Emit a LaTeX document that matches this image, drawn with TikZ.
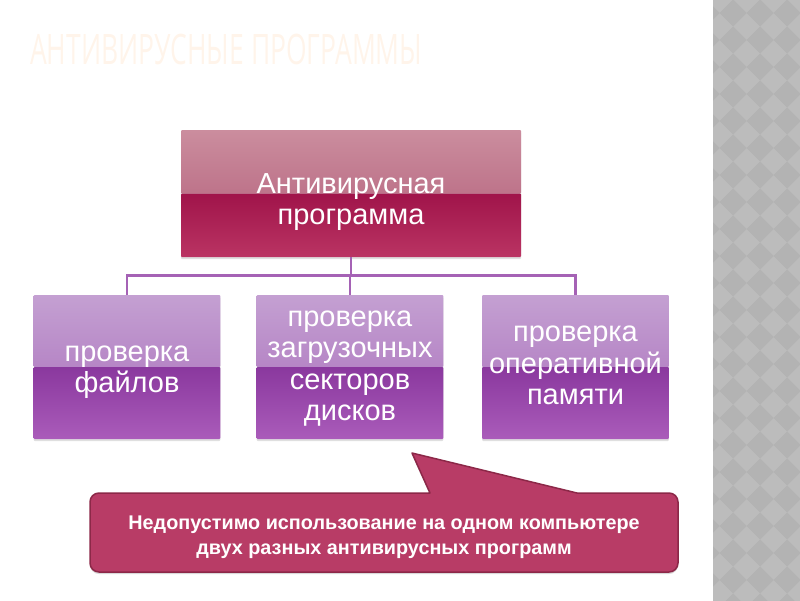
\documentclass[tikz,border=0pt]{standalone}
\usepackage{fontspec}
\setmainfont{Liberation Sans}
\newfontfamily\titlefont[FakeStretch=0.63]{Open Sans}
\usepackage{tikz}
\usetikzlibrary{shadows,calc}
\definecolor{avtitle}{HTML}{FFF4EA}
\definecolor{avstrip}{HTML}{BCBCBC}
\definecolor{avstripdk}{HTML}{B3B3B3}
\definecolor{avheadtop}{HTML}{CB8D9E}
\definecolor{avheadmid}{HTML}{B05A76}
\definecolor{avheaddk}{HTML}{A0144A}
\definecolor{avheadbot}{HTML}{BA3463}
\definecolor{avsubtop}{HTML}{C4A0D2}
\definecolor{avsubmid}{HTML}{A86CBA}
\definecolor{avsubdk}{HTML}{8A389E}
\definecolor{avsubbot}{HTML}{AA5CBA}
\definecolor{avlink}{HTML}{A562B5}
\definecolor{avnote}{HTML}{B83C66}
\definecolor{avnoteline}{HTML}{8C2848}
\tikzset{
  gloss/.style n args={4}{path picture={
    \shade[top color=#1,bottom color=#2] (path picture bounding box.north west) rectangle (path picture bounding box.east);
    \shade[top color=#3,bottom color=#4] (path picture bounding box.west) rectangle (path picture bounding box.south east);}},
  avhead/.style={draw=none,rounded corners=1pt,minimum width=340pt,minimum height=127pt,text width=320pt,align=center,
    text=white,font=\fontsize{29}{31}\selectfont,gloss={avheadtop}{avheadmid}{avheaddk}{avheadbot},
    execute at begin node={\rule{0pt}{40pt}},execute at end node={\strut},
    drop shadow={opacity=0.25,shadow xshift=0pt,shadow yshift=-2pt}},
  avsub/.style={draw=none,rounded corners=1pt,minimum width=185pt,minimum height=144pt,text width=180pt,align=center,
    text=white,font=\fontsize{29}{31.5}\selectfont,gloss={avsubtop}{avsubmid}{avsubdk}{avsubbot},
    execute at begin node={\strut},execute at end node={\strut},
    drop shadow={opacity=0.25,shadow xshift=0pt,shadow yshift=-2pt}},
  avlinks/.style={draw=avlink,line width=2.6pt},
  avnotebox/.style={fill=avnote,draw=avnoteline,line width=1.5pt,
    drop shadow={opacity=0.3,shadow xshift=0pt,shadow yshift=-2pt}},
  avnotetext/.style={text=white,align=center,font=\fontsize{19.8}{25}\selectfont\bfseries}
}
\begin{document}
\begin{tikzpicture}[x=1pt,y=-1pt]
\useasboundingbox (0,0) rectangle (800,600);
% side strip
\fill[avstrip] (713,-5) rectangle (805,605);
\begin{scope}
\clip (713,-5) rectangle (805,605);
\foreach \i in {-1,...,3}{
  \foreach \j in {0,...,22}{
    \fill[avstripdk] (733+27*\i,13+27*\j) +(-13.5,0) -- +(0,-13.5) -- +(13.5,0) -- +(0,13.5) -- cycle;
  }
}
\end{scope}
% title
\node[anchor=west,text=avtitle,font=\titlefont\fontsize{42}{42}\selectfont,inner sep=0pt] (title) at (30,49) {АНТИВИРУСНЫЕ ПРОГРАММЫ};
% tree
\node[avhead] (av) at (351,193.5) {Антивирусная\\программа};
\node[avsub,execute at begin node={\rule{0pt}{29pt}}] (files) at (127,367) {проверка\\файлов};
\node[avsub] (boot) at (350,367) {проверка\\загрузочных\\секторов\\дисков};
\node[avsub] (ram) at (575.5,367) {проверка\\оперативной\\памяти};
\coordinate (bus) at ($(av.south)+(0,18)$);
\draw[avlinks] (av.south) -- (bus);
\draw[avlinks] (bus) -| (files.north);
\draw[avlinks] (bus) -| (boot.north);
\draw[avlinks] (bus) -| (ram.north);
% callout
\draw[avnotebox,line join=round] (430,493) -- (412,453) -- (577,493)
  [rounded corners=9pt] -- (678,493) -- (678,572) -- (90,572) -- (90,493) [sharp corners] -- cycle;
\node[avnotetext] (note) at (384,537.5) {Недопустимо использование на одном компьютере\\двух разных антивирусных программ};
\end{tikzpicture}
\end{document}
